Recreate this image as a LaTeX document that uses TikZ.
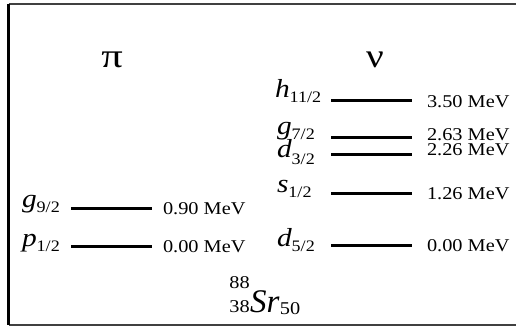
\documentclass[tikz,border=0pt]{standalone}
\usepackage{fontspec}
\setmainfont{Liberation Serif}
\usepackage{graphicx}
\newcommand{\hs}[1]{\scalebox{1.13}[1]{#1}}
\newcommand{\orb}[3][5pt]{\hs{\fontsize{26}{28}\selectfont\itshape #2\raisebox{-#1}{\fontsize{16}{17}\selectfont\upshape #3}}}
\newcommand{\en}[1]{\hs{\fontsize{18}{20}\selectfont #1}}
\tikzset{
  lvl/.style={line width=3pt},
  lab/.style={anchor=base west, inner sep=0pt, outer sep=0pt},
  frame/.style={line width=2pt, black!75},
}
\begin{document}
\begin{tikzpicture}[x=1pt,y=-1pt]
\useasboundingbox (0,0) rectangle (516,326);
% frame
\coordinate (tl) at (8.5,4.5);
\coordinate (tr) at (516,4.5);
\coordinate (bl) at (8.5,325);
\coordinate (br) at (516,325);
\draw[frame] (tl) -- (tr);
\draw[frame] (bl) -- (br);
\draw[line width=3pt] (tl) -- (bl);
% headers
\node[inner sep=0pt] (pi) at (112,60) {\scalebox{1.25}[1]{\fontsize{34}{36}\selectfont π}};
\node[inner sep=0pt] (nu) at (375,60) {\scalebox{1.15}[1]{\fontsize{34}{36}\selectfont ν}};
% proton levels
\foreach \n/\y in {g92/208,p12/246}{
  \coordinate (\n a) at (71,\y);
  \coordinate (\n b) at (152,\y);
  \draw[lvl] (\n a) -- (\n b);
}
\node[lab] (lg92) at (22,207) {\orb{g}{9/2}};
\node[lab] (lp12) at (22,246) {\orb{p}{1/2}};
\node[lab] (eg92) at (163,214) {\en{0.90 MeV}};
\node[lab] (ep12) at (163,252) {\en{0.00 MeV}};
% neutron levels
\foreach \n/\y in {h112/101,g72/137,d32/154,s12/193,d52/245}{
  \coordinate (\n a) at (331,\y);
  \coordinate (\n b) at (412,\y);
  \draw[lvl] (\n a) -- (\n b);
}
\node[lab] (lh112) at (275,98) {\orb{h}{11/2}};
\node[lab] (lg72) at (277,135) {\orb{g}{7/2}};
\node[lab] (ld32) at (277,157) {\orb[7pt]{d}{3/2}};
\node[lab] (ls12) at (277,192) {\orb{s}{1/2}};
\node[lab] (ld52) at (277,246) {\orb{d}{5/2}};
\node[lab] (eh112) at (427,107) {\en{3.50 MeV}};
\node[lab] (eg72) at (427,140) {\en{2.63 MeV}};
\node[lab] (ed32) at (427,155) {\en{2.26 MeV}};
\node[lab] (es12) at (427,199) {\en{1.26 MeV}};
\node[lab] (ed52) at (427,251) {\en{0.00 MeV}};
% nucleus
\node[anchor=base east, inner sep=0pt] (mass) at (250,288) {\hs{\fontsize{18}{20}\selectfont 88}};
\node[anchor=base east, inner sep=0pt] (charge) at (250,312) {\hs{\fontsize{18}{20}\selectfont 38}};
\node[anchor=base west, inner sep=0pt] (sr) at (250,312) {\fontsize{33}{35}\selectfont\itshape Sr};
\node[anchor=base west, inner sep=0pt] (nn) at (sr.base east) {\raisebox{-2pt}{\hs{\fontsize{18}{20}\selectfont 50}}};
\end{tikzpicture}
\end{document}
